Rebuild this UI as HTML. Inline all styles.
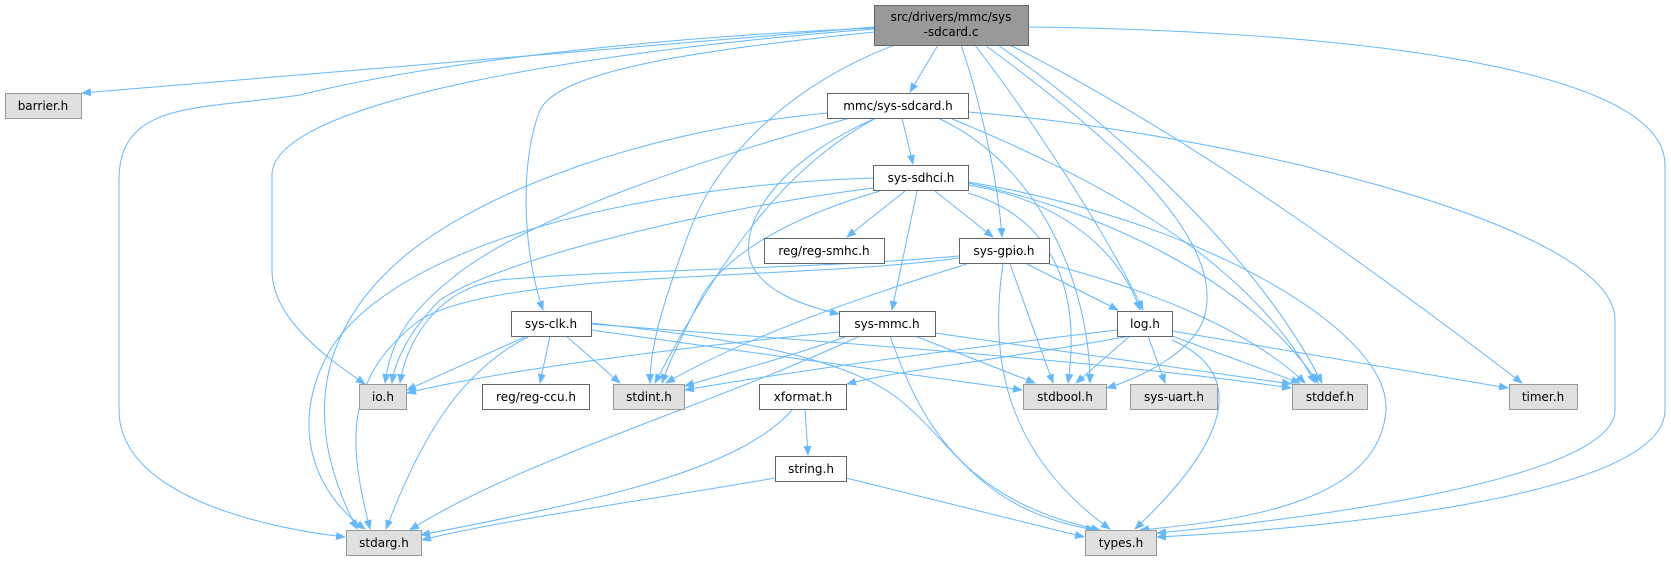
<!DOCTYPE html>
<html><head><meta charset="utf-8"><style>
html,body{margin:0;padding:0;background:#fff;}
svg{display:block;}
text{font-family:"DejaVu Sans","Liberation Sans",sans-serif;font-size:12px;fill:#000;}
.e{fill:none;stroke:#63b8ff;stroke-width:1;marker-end:url(#a);}
.w{fill:#fff;stroke:#666;}
.g{fill:#e0e0e0;stroke:#999;}
</style></head><body>
<svg width="1671" height="564" viewBox="0 0 1671 564" xmlns="http://www.w3.org/2000/svg">
<defs><marker id="a" markerWidth="10" markerHeight="8" refX="9" refY="4" orient="auto" markerUnits="userSpaceOnUse"><path d="M0,0 L10,4 L0,8 z" fill="#63b8ff"/></marker></defs>
<!-- src edges -->
<path class="e" d="M874,27 L82,93"/>
<path class="e" d="M874,28 C600,40 400,70 300,95 C200,110 119,100 119,180 L119,410 C119,500 280,530 345,537"/>
<path class="e" d="M874,29 C600,50 272,100 272,175 L272,270 C272,320 330,360 365,384"/>
<path class="e" d="M874,32 C700,50 560,70 540,110 C520,160 522,250 543,310"/>
<path class="e" d="M895,45 C800,80 720,150 690,230 C660,310 650,350 650,383"/>
<path class="e" d="M938,45 L910,92"/>
<path class="e" d="M961,45 C980,100 998,180 1002,237"/>
<path class="e" d="M975,45 C1040,130 1110,240 1143,310"/>
<path class="e" d="M985,45 C1100,130 1220,230 1206,310 C1200,350 1140,378 1107,388"/>
<path class="e" d="M998,45 C1120,130 1260,260 1322,383"/>
<path class="e" d="M1010,45 C1200,140 1400,290 1522,383"/>
<path class="e" d="M1028,27 C1300,30 1665,60 1665,165 L1665,410 C1665,500 1300,530 1157,537"/>
<!-- mmc/sys-sdcard -->
<path class="e" d="M827,113 C650,130 480,190 400,260 C320,330 300,420 357,529"/>
<path class="e" d="M850,118 C700,160 520,220 450,280 C400,320 390,350 385,383"/>
<path class="e" d="M876,118 C780,170 720,260 655,383"/>
<path class="e" d="M902,118 L913,164"/>
<path class="e" d="M876,118 C780,160 740,220 750,260 C760,290 800,305 839,314"/>
<path class="e" d="M938,118 C1050,170 1090,300 1090,383"/>
<path class="e" d="M950,118 C1100,180 1250,260 1315,383"/>
<path class="e" d="M968,112 C1200,130 1615,220 1615,320 L1615,410 C1615,480 1300,520 1157,533"/>
<!-- sys-sdhci -->
<path class="e" d="M873,178 C650,185 400,240 330,350 C290,420 310,490 365,529"/>
<path class="e" d="M873,188 C700,210 500,260 440,300 C410,330 395,360 392,383"/>
<path class="e" d="M880,191 C780,220 720,260 700,300 C680,340 670,360 662,383"/>
<path class="e" d="M905,191 L847,237"/>
<path class="e" d="M917,191 L892,310"/>
<path class="e" d="M935,191 L993,237"/>
<path class="e" d="M968,193 C1060,220 1080,300 1068,383"/>
<path class="e" d="M968,185 C1060,200 1120,250 1140,310"/>
<path class="e" d="M968,183 C1100,210 1250,280 1318,383"/>
<path class="e" d="M968,182 C1200,220 1390,330 1386,410 C1380,500 1250,520 1140,530"/>
<!-- sys-gpio -->
<path class="e" d="M959,256 C800,270 600,270 500,280 C430,290 405,350 400,383"/>
<path class="e" d="M959,258 C800,280 500,270 420,320 C340,380 350,450 370,529"/>
<path class="e" d="M967,264 C850,300 740,340 666,383"/>
<path class="e" d="M1027,264 L1118,310"/>
<path class="e" d="M1010,264 L1053,383"/>
<path class="e" d="M1049,264 C1150,290 1250,330 1305,383"/>
<path class="e" d="M1003,264 C990,350 1000,450 1110,529"/>
<!-- sys-clk -->
<path class="e" d="M527,336 L407,390"/>
<path class="e" d="M530,336 C460,370 420,440 386,529"/>
<path class="e" d="M550,336 L540,383"/>
<path class="e" d="M566,336 L620,383"/>
<path class="e" d="M591,330 L1022,390"/>
<path class="e" d="M591,324 C800,340 1100,360 1291,388"/>
<path class="e" d="M591,323 C750,340 850,360 900,400 C960,450 980,510 1095,530"/>
<!-- sys-mmc -->
<path class="e" d="M839,332 C700,345 500,370 407,393"/>
<path class="e" d="M848,336 C780,360 720,375 685,386"/>
<path class="e" d="M860,336 C700,410 520,460 410,530"/>
<path class="e" d="M915,336 L1035,383"/>
<path class="e" d="M935,333 C1050,350 1200,370 1291,384"/>
<path class="e" d="M890,336 C920,420 960,500 1100,530"/>
<!-- log.h -->
<path class="e" d="M1117,330 C950,350 800,370 685,390"/>
<path class="e" d="M1130,336 C1000,360 900,370 847,384"/>
<path class="e" d="M1130,336 L1076,383"/>
<path class="e" d="M1148,336 L1165,383"/>
<path class="e" d="M1172,336 L1300,383"/>
<path class="e" d="M1172,331 L1508,388"/>
<path class="e" d="M1172,340 C1240,370 1240,430 1135,529"/>
<!-- xformat / string -->
<path class="e" d="M805,409 L808,455"/>
<path class="e" d="M793,409 C740,470 600,500 421,535"/>
<path class="e" d="M775,478 C650,500 500,520 422,540"/>
<path class="e" d="M846,478 L1084,537"/>
<!-- nodes -->
<rect x="874.5" y="5.5" width="154" height="40" fill="#999" stroke="#666"/>
<text x="951" y="21" text-anchor="middle">src/drivers/mmc/sys</text>
<text x="951" y="36" text-anchor="middle">-sdcard.c</text>
<rect class="g" x="5.5" y="93.5" width="76" height="25"/><text x="43" y="110" text-anchor="middle">barrier.h</text>
<rect class="w" x="827.5" y="93.5" width="141" height="25"/><text x="898" y="110" text-anchor="middle">mmc/sys-sdcard.h</text>
<rect class="w" x="873.5" y="165.5" width="95" height="25"/><text x="921" y="182" text-anchor="middle">sys-sdhci.h</text>
<rect class="w" x="764.5" y="238.5" width="120" height="25"/><text x="824" y="255" text-anchor="middle">reg/reg-smhc.h</text>
<rect class="w" x="959.5" y="238.5" width="90" height="25"/><text x="1004" y="255" text-anchor="middle">sys-gpio.h</text>
<rect class="w" x="511.5" y="311.5" width="80" height="25"/><text x="551" y="328" text-anchor="middle">sys-clk.h</text>
<rect class="w" x="839.5" y="311.5" width="96" height="25"/><text x="887" y="328" text-anchor="middle">sys-mmc.h</text>
<rect class="w" x="1117.5" y="311.5" width="55" height="25"/><text x="1145" y="328" text-anchor="middle">log.h</text>
<rect class="g" x="359.5" y="384.5" width="47" height="25"/><text x="383" y="401" text-anchor="middle">io.h</text>
<rect class="w" x="482.5" y="384.5" width="107" height="25"/><text x="536" y="401" text-anchor="middle">reg/reg-ccu.h</text>
<rect class="g" x="613.5" y="384.5" width="71" height="25"/><text x="649" y="401" text-anchor="middle">stdint.h</text>
<rect class="w" x="759.5" y="384.5" width="87" height="25"/><text x="803" y="401" text-anchor="middle">xformat.h</text>
<rect class="g" x="1023.5" y="384.5" width="83" height="25"/><text x="1065" y="401" text-anchor="middle">stdbool.h</text>
<rect class="g" x="1130.5" y="384.5" width="87" height="25"/><text x="1174" y="401" text-anchor="middle">sys-uart.h</text>
<rect class="g" x="1292.5" y="384.5" width="75" height="25"/><text x="1330" y="401" text-anchor="middle">stddef.h</text>
<rect class="g" x="1509.5" y="384.5" width="68" height="25"/><text x="1543" y="401" text-anchor="middle">timer.h</text>
<rect class="w" x="775.5" y="456.5" width="71" height="25"/><text x="811" y="473" text-anchor="middle">string.h</text>
<rect class="g" x="346.5" y="530.5" width="75" height="25"/><text x="384" y="547" text-anchor="middle">stdarg.h</text>
<rect class="g" x="1085.5" y="530.5" width="71" height="25"/><text x="1121" y="547" text-anchor="middle">types.h</text>
</svg>
</body></html>
